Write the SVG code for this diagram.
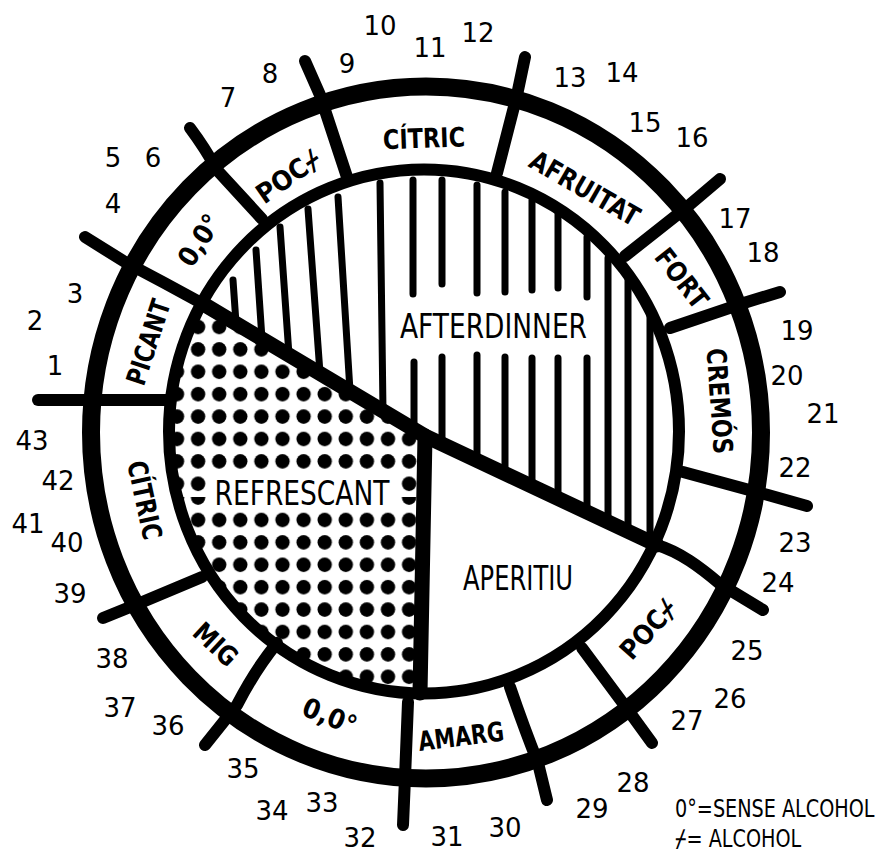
<svg xmlns="http://www.w3.org/2000/svg" width="883" height="854" viewBox="0 0 883 854">
<style>
.num{font-family:"DejaVu Sans","Liberation Sans",sans-serif;font-size:26px;fill:#000;text-anchor:middle}
.band{font-family:"DejaVu Sans","DejaVu Sans Mono",sans-serif;font-size:27px;font-weight:bold;fill:#000;text-anchor:middle}
.pie{font-family:"DejaVu Sans",sans-serif;font-size:34px;fill:#000;text-anchor:middle}
.leg{font-family:"DejaVu Sans","DejaVu Sans Mono",sans-serif;font-size:24px;fill:#000}
.hatch{stroke:#000;stroke-width:7;stroke-linecap:round;fill:none}
.div{stroke:#000;stroke-width:12;stroke-linecap:round;stroke-linejoin:round;fill:none}
.split{stroke:#000;stroke-width:15;stroke-linecap:round;stroke-linejoin:round;fill:none}
.ring{fill:none;stroke:#000}
</style>
<defs>
<pattern id="dotsA" patternUnits="userSpaceOnUse" x="166.45" y="315.8" width="21.1" height="22.4"><circle cx="10.55" cy="11.2" r="7.2"/></pattern>
<pattern id="dotsB" patternUnits="userSpaceOnUse" x="166.45" y="508.8" width="21.1" height="22.4"><circle cx="10.55" cy="11.2" r="7.2"/></pattern>
<clipPath id="refr"><path d="M425,436 L205,305 A255,262 0 0 0 420,693 Z"/></clipPath>
</defs>
<rect width="883" height="854" fill="#fff"/>

<g id="refrescant">
<g clip-path="url(#refr)">
<rect x="160" y="290" width="270" height="207" fill="url(#dotsA)"/>
<rect x="160" y="497" width="270" height="210" fill="url(#dotsB)"/>
</g>
<rect x="208" y="471" width="193" height="36" fill="#fff"/>
<text class="pie" x="302" y="505" textLength="175" lengthAdjust="spacingAndGlyphs">REFRESCANT</text>
</g>

<g id="afterdinner">
<path class="hatch" d="M233,280 L236,323 M256,250 L262,339 M280,227 L289,355 M308,209 L320,373 M338,197 L350,391 M380,183 L383,411 M413,180 L413,294 M414,362 L414,429 M442,180 L442,284 M442,357 L442,444 M477,185 L477,293 M477,355 L477,460 M505,192 L505,292 M505,357 L505,473 M532,200 L532,290 M532,358 L532,486 M558,213 L558,288 M558,358 L558,498 M587,237 L587,297 M587,358 L587,512 M608,258 L608,521 M628,278 L628,531 M650,315 L650,541"/>
<text class="pie" x="493.5" y="338" textLength="187" lengthAdjust="spacingAndGlyphs">AFTERDINNER</text>
</g>

<g id="aperitiu">
<text class="pie" x="518" y="590" font-size="32" textLength="110" lengthAdjust="spacingAndGlyphs">APERITIU</text>
</g>

<g id="rings">
<ellipse class="ring" cx="424" cy="431.5" rx="255" ry="262" stroke-width="12"/>
<ellipse class="ring" cx="426" cy="432.5" rx="335" ry="346" stroke-width="18"/>
</g>

<g id="connectors">
<path class="split" d="M205,305 L425,436 L657,545"/>
<path class="split" d="M425,436 L420,693"/>
<path class="div" d="M38,400 L167,400"/>
<path class="div" d="M85,237 L125,262 Q165,283 205,305"/>
<path class="div" d="M190,128 Q205,148 217,170 L262,219"/>
<path class="div" d="M305,61 L320,95 L347,177"/>
<path class="div" d="M525,57 L517,95 L497,173"/>
<path class="div" d="M720,179 L687,207 L625,256"/>
<path class="div" d="M780,292 L747,302 L670,328"/>
<path class="div" d="M807,506 L768,495 L683,472"/>
<path class="div" d="M657,545 C680,552 700,567 720,584 L763,610"/>
<path class="div" d="M582,648 L628,710 L652,743"/>
<path class="div" d="M510,687 Q524,728 538,763 L547,800"/>
<path class="div" d="M408,702 L405,778 L403,825"/>
<path class="div" d="M277,643 Q255,670 237,705 L205,745"/>
<path class="div" d="M202,577 L140,603 L103,618"/>
</g>

<g id="cell-picant"><text class="band" transform="translate(148,342) rotate(-72)" y="9.8" textLength="88" lengthAdjust="spacingAndGlyphs">PICANT</text></g>
<g id="cell-00-top"><text class="band" transform="translate(199,240) rotate(-57)" y="9.8" textLength="56" lengthAdjust="spacingAndGlyphs">0,0°</text></g>
<g id="cell-poc-top"><text class="band" transform="translate(288,176) rotate(-35)" y="9.8" textLength="72" lengthAdjust="spacingAndGlyphs">POC⌿</text></g>
<g id="cell-citric-top"><text class="band" transform="translate(424,138) rotate(-2)" y="9.8" textLength="82" lengthAdjust="spacingAndGlyphs">CÍTRIC</text></g>
<g id="cell-afruitat"><text class="band" transform="translate(585,188) rotate(30)" y="9.8" textLength="122" lengthAdjust="spacingAndGlyphs">AFRUITAT</text></g>
<g id="cell-fort"><text class="band" transform="translate(682,278) rotate(52)" y="9.8" textLength="68" lengthAdjust="spacingAndGlyphs">FORT</text></g>
<g id="cell-cremos"><text class="band" transform="translate(720,401) rotate(86)" y="9.8" textLength="106" lengthAdjust="spacingAndGlyphs">CREMÓS</text></g>
<g id="cell-empty-1"></g>
<g id="cell-poc-bottom"><text class="band" transform="translate(648,629) rotate(-48)" y="9.8" textLength="70" lengthAdjust="spacingAndGlyphs">POC⌿</text></g>
<g id="cell-empty-2"></g>
<g id="cell-amarg"><text class="band" transform="translate(461,736) rotate(-7)" y="9.8" textLength="86" lengthAdjust="spacingAndGlyphs">AMARG</text></g>
<g id="cell-00-bottom"><text class="band" transform="translate(330,716) rotate(22)" y="9.8" textLength="56" lengthAdjust="spacingAndGlyphs">0,0°</text></g>
<g id="cell-mig"><text class="band" transform="translate(216,644) rotate(43)" y="9.8" textLength="50" lengthAdjust="spacingAndGlyphs">MIG</text></g>
<g id="cell-citric-left"><text class="band" transform="translate(145,500) rotate(78)" y="9.8" textLength="80" lengthAdjust="spacingAndGlyphs">CÍTRIC</text></g>

<g id="numbers">
<text class="num" x="55" y="374.5">1</text>
<text class="num" x="35" y="329.5">2</text>
<text class="num" x="75" y="302.5">3</text>
<text class="num" x="113" y="212.5">4</text>
<text class="num" x="113" y="166.5">5</text>
<text class="num" x="153" y="166.5">6</text>
<text class="num" x="228" y="106.5">7</text>
<text class="num" x="270" y="82.5">8</text>
<text class="num" x="347" y="72.5">9</text>
<text class="num" x="380" y="34.5">10</text>
<text class="num" x="430" y="56.5">11</text>
<text class="num" x="478" y="41.5">12</text>
<text class="num" x="570" y="86.5">13</text>
<text class="num" x="622" y="81.5">14</text>
<text class="num" x="645" y="131.5">15</text>
<text class="num" x="692" y="146.5">16</text>
<text class="num" x="735" y="227.5">17</text>
<text class="num" x="763" y="261.5">18</text>
<text class="num" x="797" y="339.5">19</text>
<text class="num" x="787" y="384.5">20</text>
<text class="num" x="823" y="422.5">21</text>
<text class="num" x="795" y="476.5">22</text>
<text class="num" x="795" y="551.5">23</text>
<text class="num" x="778" y="591.5">24</text>
<text class="num" x="747" y="659.5">25</text>
<text class="num" x="730" y="707.5">26</text>
<text class="num" x="687" y="729.5">27</text>
<text class="num" x="633" y="791.5">28</text>
<text class="num" x="592" y="817.5">29</text>
<text class="num" x="505" y="836.5">30</text>
<text class="num" x="447" y="845.5">31</text>
<text class="num" x="360" y="846.5">32</text>
<text class="num" x="322" y="811.5">33</text>
<text class="num" x="272" y="819.5">34</text>
<text class="num" x="243" y="777.5">35</text>
<text class="num" x="168" y="734.5">36</text>
<text class="num" x="120" y="716.5">37</text>
<text class="num" x="112" y="667.5">38</text>
<text class="num" x="70" y="602.5">39</text>
<text class="num" x="67" y="551.5">40</text>
<text class="num" x="28" y="532.5">41</text>
<text class="num" x="58" y="489.5">42</text>
<text class="num" x="32" y="449.5">43</text>
</g>

<g id="legend">
<text class="leg" transform="translate(675,817) scale(0.8,1)">0°=SENSE ALCOHOL</text>
<text class="leg" transform="translate(675,847) scale(0.8,1)">⌿= ALCOHOL</text>
</g>
</svg>
